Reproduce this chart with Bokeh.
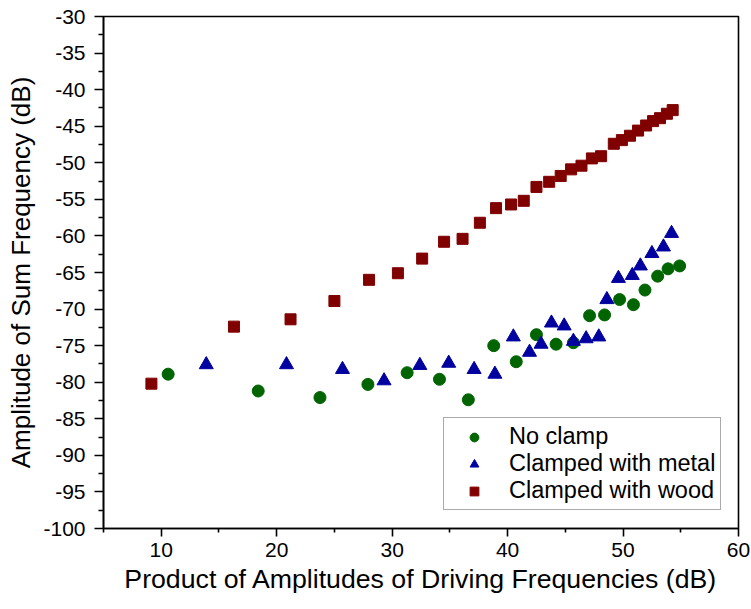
from bokeh.plotting import figure
from bokeh.models import Range1d, FixedTicker, Legend, LegendItem
from bokeh.embed import file_html
from bokeh.resources import INLINE

# ---- data ----
noclamp_x = [10.6, 18.4, 23.75, 27.9, 31.3, 34.1, 36.6, 38.8, 40.75, 42.5,
             44.2, 45.7, 47.1, 48.4, 49.7, 50.9, 51.9, 53.0, 53.9, 54.9]
noclamp_y = [-78.9, -81.2, -82.1, -80.3, -78.7, -79.6, -82.4, -75.0, -77.2, -73.5,
             -74.8, -74.6, -70.9, -70.8, -68.7, -69.4, -67.4, -65.5, -64.5, -64.1]

metal_x = [13.9, 20.85, 25.7, 29.3, 32.4, 34.9, 37.1, 38.9, 40.5, 41.9, 42.9,
           43.8, 44.9, 45.7, 46.8, 47.9, 48.6, 49.6, 50.8, 51.5, 52.5, 53.5, 54.2]
metal_y = [-77.6, -77.6, -78.25, -79.8, -77.7, -77.4, -78.25, -78.9, -73.8, -75.9, -74.8,
           -71.9, -72.3, -74.4, -74.05, -73.8, -68.7, -65.8, -65.4, -64.1, -62.4, -61.5, -59.65]

wood_x = [9.15, 16.3, 21.2, 25.0, 28.0, 30.5, 32.6, 34.5, 36.1, 37.6, 39.0, 40.3, 41.4,
          42.5, 43.6, 44.6, 45.5, 46.4, 47.3, 48.1, 49.2, 49.9, 50.6, 51.3, 52.0,
          52.6, 53.2, 53.8, 54.3]
wood_y = [-80.2, -72.4, -71.4, -68.9, -66.0, -65.1, -63.1, -60.8, -60.4, -58.2, -56.2, -55.7, -55.2,
          -53.3, -52.6, -51.8, -50.9, -50.4, -49.4, -49.1, -47.4, -46.9, -46.3, -45.6, -44.9,
          -44.3, -43.9, -43.3, -42.8]

series_names = ["No clamp", "Clamped with metal", "Clamped with wood"]
x_major = [10, 20, 30, 40, 50, 60]
x_minor = [5, 15, 25, 35, 45, 55]
y_major = list(range(-100, -25, 5))
y_minor = [v + 2.5 for v in range(-100, -30, 5)]
y_labels = {v: str(v) for v in y_major}

FONT = "Liberation Sans"

p = figure(width=751, height=609, output_backend="svg", toolbar_location=None,
           x_range=Range1d(5, 60), y_range=Range1d(-100, -30),
           min_border_left=103, min_border_right=13, min_border_top=16, min_border_bottom=81)

p.xgrid.visible = False
p.ygrid.visible = False
p.outline_line_color = "black"
p.outline_line_width = 1.6
p.outline_line_alpha = 1.0

p.xaxis.ticker = FixedTicker(ticks=x_major, minor_ticks=x_minor)
p.yaxis.ticker = FixedTicker(ticks=y_major, minor_ticks=y_minor)
p.yaxis.major_label_overrides = y_labels

for ax in (p.xaxis[0], p.yaxis[0]):
    ax.axis_line_color = "black"
    ax.axis_line_width = 1.6
    ax.major_tick_line_color = "black"
    ax.minor_tick_line_color = "black"
    ax.major_tick_line_width = 1.6
    ax.minor_tick_line_width = 1.6
    ax.major_tick_in = 0
    ax.minor_tick_in = 0
    ax.major_label_text_font = FONT
    ax.major_label_text_font_size = "21px"
    ax.major_label_text_color = "black"
    ax.axis_label_text_font = FONT
    ax.axis_label_text_font_style = "normal"
    ax.axis_label_text_color = "black"

p.xaxis.axis_label_text_font_size = "26.7px"
p.yaxis.axis_label_text_font_size = "26px"
p.xaxis.major_tick_out = 8
p.xaxis.minor_tick_out = 4
p.yaxis.major_tick_out = 9
p.yaxis.minor_tick_out = 5
p.xaxis.major_label_standoff = 6
p.yaxis.major_label_standoff = 9
p.xaxis.axis_label_standoff = 4
p.yaxis.axis_label_standoff = 4

p.xaxis.axis_label = "Product of Amplitudes of Driving Frequencies (dB)"
p.yaxis.axis_label = "Amplitude of Sum Frequency (dB)"

r1 = p.scatter(noclamp_x, noclamp_y, marker="circle", size=12,
               fill_color="#006400", line_color="#006400")
r2 = p.scatter(metal_x, metal_y, marker="triangle", size=14,
               fill_color="#0000a0", line_color="#0000a0")
r3 = p.scatter(wood_x, wood_y, marker="square", size=11,
               fill_color="#800000", line_color="#800000")

legend = Legend(items=[LegendItem(label=series_names[0], renderers=[r1]),
                       LegendItem(label=series_names[1], renderers=[r2]),
                       LegendItem(label=series_names[2], renderers=[r3])],
                location=(340, 18))
legend.label_text_font = FONT
legend.label_text_font_size = "23.5px"
legend.label_text_color = "black"
legend.label_height = 24
legend.glyph_height = 22
legend.glyph_width = 50
legend.label_standoff = 10
legend.spacing = 0
legend.padding = 5
legend.margin = 0
legend.border_line_color = "#555555"
legend.border_line_width = 1.2
legend.background_fill_alpha = 1.0
p.add_layout(legend)

open("out.html", "w").write(file_html(p, INLINE))
